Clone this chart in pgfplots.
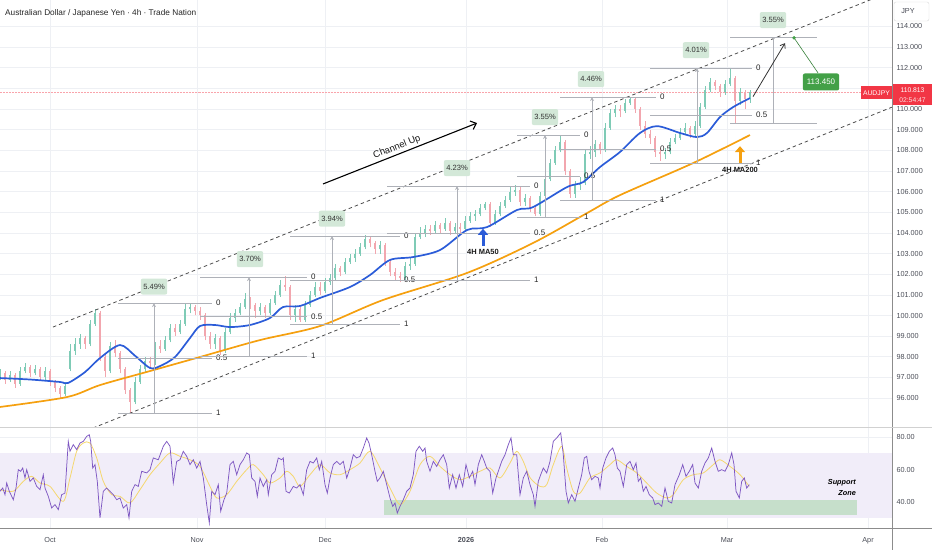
\documentclass[border=0pt]{standalone}
\usepackage{pgfplots}
\pgfplotsset{compat=1.18}
\usepackage{pgfplotstable}
\usetikzlibrary{arrows.meta}
\usepackage{fontspec}
\setmainfont{Liberation Sans}

\definecolor{cgreen}{HTML}{7FCBB6}
\definecolor{cred}{HTML}{F2A6AE}
\definecolor{ma50}{HTML}{2B5CD8}
\definecolor{ma200}{HTML}{F5A00F}
\definecolor{gridc}{HTML}{EEF0F4}
\definecolor{axc}{HTML}{4A4D57}
\definecolor{fibc}{HTML}{AEB1B8}
\definecolor{pctfill}{HTML}{D3E8D8}
\definecolor{rsic}{HTML}{7E57C2}
\definecolor{rsima}{HTML}{F5D76E}
\definecolor{band}{HTML}{F1EDF9}
\definecolor{zone}{HTML}{C6DFCB}
\definecolor{tagred}{HTML}{F23645}
\definecolor{tvgreen}{HTML}{43A047}

\pgfplotstableread{
x o h l c
0 97.0 97.4 96.9 97.2
5 97.2 97.3 96.7 96.9
10 96.9 97.3 96.8 97.1
15 97.1 97.2 96.5 96.7
20 96.7 97.5 96.6 97.3
25 97.3 97.7 97.2 97.5
30 97.5 97.6 97.0 97.2
35 97.2 97.6 97.1 97.4
40 97.4 97.5 96.9 97.0
45 97.0 97.5 96.9 97.3
50 97.3 97.4 96.6 96.8
55 96.8 96.9 96.3 96.5
60 96.5 96.6 96.0 96.2
65 96.2 96.8 96.1 96.6
70 97.4 98.6 97.3 98.3
75 98.3 98.9 98.1 98.6
80 98.6 99.1 98.4 98.9
85 98.9 99.0 98.4 98.6
90 98.6 99.8 98.5 99.6
95 99.6 100.3 99.5 100.1
100 100.1 100.2 97.8 98.0
105 98.0 98.2 97.0 97.3
110 97.3 98.7 97.2 98.5
115 98.5 98.8 98.0 98.2
120 98.2 98.3 97.2 97.4
125 97.4 97.5 96.2 96.4
130 96.4 96.5 95.3 95.8
135 95.8 97.0 95.7 96.8
140 96.8 97.6 96.7 97.4
145 97.4 98.0 97.2 97.8
150 97.8 98.0 97.5 97.7
155 97.7 98.7 97.6 98.5
160 98.5 98.8 98.2 98.4
165 98.4 99.0 98.3 98.8
170 98.8 99.6 98.7 99.4
175 99.4 99.6 99.0 99.2
180 99.2 99.8 99.1 99.6
185 99.6 100.6 99.5 100.3
190 100.3 100.6 100.1 100.4
195 100.4 100.5 100.0 100.2
200 100.2 100.4 99.8 100.0
205 100.0 100.1 98.8 99.0
210 99.0 99.2 98.4 98.6
215 98.6 99.1 98.4 98.9
220 98.9 99.0 98.1 98.3
225 98.3 99.4 98.2 99.2
230 99.2 100.1 99.1 99.9
235 99.9 100.3 99.7 100.1
240 100.1 100.6 100.0 100.4
245 100.4 101.1 100.3 100.8
250 100.8 100.9 100.3 100.5
255 100.5 100.6 99.9 100.2
260 100.2 100.6 100.0 100.4
265 100.4 100.5 99.9 100.1
270 100.1 100.8 100.0 100.6
275 100.6 101.2 100.5 101.0
280 101.0 101.7 100.9 101.5
285 101.5 101.9 101.2 101.4
290 101.4 101.5 99.8 100.0
295 100.0 100.5 99.7 100.3
300 100.3 100.4 99.7 99.8
305 99.8 100.7 99.7 100.5
310 100.5 101.2 100.4 101.0
315 101.0 101.6 100.9 101.4
320 101.4 101.6 101.0 101.2
325 101.2 101.8 101.1 101.6
330 101.6 102.0 101.5 101.8
335 101.8 102.5 101.7 102.3
340 102.3 102.4 101.9 102.1
345 102.1 102.8 102.0 102.6
350 102.6 103.0 102.5 102.8
355 102.8 103.2 102.6 103.0
360 103.0 103.5 102.9 103.3
365 103.3 103.9 103.2 103.7
370 103.7 103.8 103.3 103.5
375 103.5 103.6 103.0 103.2
380 103.2 103.6 103.0 103.4
385 103.4 103.5 102.4 102.6
390 102.6 102.7 101.9 102.1
395 102.1 102.3 101.7 101.9
400 101.9 102.1 101.6 101.8
405 101.8 102.6 101.7 102.4
410 102.4 102.8 102.2 102.5
415 102.5 104.0 102.4 103.8
420 103.8 104.3 103.7 104.0
425 104.0 104.4 103.8 104.2
430 104.2 104.4 103.9 104.1
435 104.1 104.6 104.0 104.4
440 104.4 104.5 104.0 104.2
445 104.2 104.7 104.1 104.5
450 104.5 104.6 103.9 104.1
455 104.1 104.5 104.0 104.3
460 104.3 104.5 104.0 104.2
465 104.2 104.8 104.1 104.6
470 104.6 105.0 104.5 104.8
475 104.8 105.1 104.6 104.9
480 104.9 105.4 104.8 105.2
485 105.2 105.5 105.1 105.4
490 105.4 105.5 104.3 104.5
495 104.5 105.1 104.4 104.9
500 104.9 105.5 104.8 105.3
505 105.3 105.8 105.2 105.6
510 105.6 106.2 105.5 106.0
515 106.0 106.3 105.8 106.1
520 106.1 106.2 105.3 105.5
525 105.5 105.9 105.3 105.7
530 105.7 105.8 105.0 105.2
535 105.2 105.3 104.8 104.9
540 104.9 106.0 104.8 105.8
545 105.8 106.8 105.7 106.6
550 106.6 107.6 106.5 107.4
555 107.4 108.2 107.3 108.0
560 108.0 108.7 107.9 108.4
565 108.4 108.5 106.8 107.0
570 107.0 107.1 105.7 105.9
575 105.9 106.5 105.7 106.3
580 106.3 106.7 106.1 106.4
585 106.4 108.0 106.3 107.8
590 107.8 108.2 107.6 107.9
595 107.9 108.5 107.7 108.3
600 108.3 108.4 107.8 108.0
605 108.0 109.3 107.9 109.1
610 109.1 110.0 109.0 109.8
615 109.8 110.2 109.6 110.0
620 110.0 110.2 109.6 109.9
625 109.9 110.5 109.8 110.3
630 110.3 110.6 110.2 110.5
635 110.5 110.6 109.8 110.0
640 110.0 110.1 109.0 109.2
645 109.2 109.4 108.6 108.8
650 108.8 109.0 108.3 108.6
655 108.6 108.7 107.7 107.9
660 107.9 108.1 107.5 107.8
665 107.8 108.1 107.6 107.9
670 107.9 108.6 107.8 108.4
675 108.4 108.8 108.3 108.6
680 108.6 109.1 108.5 108.9
685 108.9 109.3 108.8 109.1
690 109.1 109.2 108.6 108.8
695 108.8 109.4 108.7 109.2
700 109.2 110.3 109.1 110.1
705 110.1 111.1 110.0 110.9
710 110.9 111.5 110.8 111.3
715 111.3 111.4 110.9 111.1
720 111.1 111.2 110.6 110.8
725 110.8 111.4 110.7 111.2
730 111.2 112.0 111.1 111.5
735 111.5 111.6 109.3 110.4
740 110.4 111.0 110.2 110.8
745 110.8 110.9 110.0 110.5
750 110.5 110.9 110.3 110.8
}\candles

\pgfplotstableread{
x r
0 46.6
2.7 48.6
5 44.5
6.7 51.7
9.3 46.6
11.7 43.5
13.3 41.4
16 48.6
18.3 59.9
20.7 58.9
22.7 60.9
25 54.8
26.7 59.9
30 52.7
33.3 54.8
36.7 49.6
40 47.6
43.3 56.8
45 48.6
48.3 43.5
51.7 36.3
55 38.4
58.3 35.3
61.7 44.5
65 45.5
68.3 77.3
70 71.2
73.3 75.3
76.7 72.2
80 76.3
83.3 77.3
86.7 80.4
89.3 81.4
90.7 77.3
92.7 60.9
95 63.0
97.3 52.7
100 30.2
103.3 46.6
106.7 48.6
110 46.6
113.3 44.5
116.7 41.4
120 42.5
123.3 36.3
126.7 38.4
129 30.2
131.7 46.6
135 50.7
138.3 49.6
141.7 58.9
146.7 57.9
150 59.9
153.3 67.1
158.3 66.0
163.3 74.3
166.7 77.3
170 74.3
171.7 63.0
173.3 51.7
176.7 65.0
180 66.0
183.3 71.2
186.7 68.1
190 63.0
193.3 66.0
196.7 60.9
200 65.0
203.3 54.8
206.7 38.4
209.3 27.1
211.7 46.6
215 44.5
218.3 50.7
220.7 34.3
224 41.4
226.7 45.5
230 63.0
233.3 65.0
236.7 56.8
240 63.0
243.3 66.0
246.7 70.2
249.3 69.1
251.7 54.8
255 52.7
257.3 43.5
260 54.8
263.3 49.6
266.7 53.7
268.3 44.5
271.7 56.8
275 58.9
278.3 67.1
281.7 66.0
283.3 67.1
286 46.6
289.3 45.5
293.3 49.6
296.7 48.6
300 50.7
303.3 44.5
306.7 59.9
310 65.0
313.3 64.0
316.7 67.1
319.3 59.9
321.7 65.0
325 50.7
327.3 45.5
330 54.8
333.3 63.0
336.7 65.0
340 63.0
343.3 65.0
346.7 54.8
350 60.9
353.3 69.1
356.7 67.1
360 68.1
363.3 73.2
366.7 79.4
369 76.3
371.7 69.1
375 58.9
377.3 52.7
380 54.8
383.3 58.9
386.7 50.7
390 42.5
392.7 37.3
395 39.4
397.3 33.2
400 37.3
403.3 41.4
406.7 46.6
410 48.6
413.3 56.8
416 71.2
419.3 74.3
422.7 71.2
425 73.2
426.7 65.0
430 58.9
433.3 65.0
436.7 61.9
440 66.0
443.3 69.1
446.7 63.0
449.3 48.6
452.7 56.8
456 48.6
459.3 56.8
462.7 49.6
466 63.0
469.3 54.8
472.7 58.9
475 50.7
478.3 63.0
481.7 69.1
484.3 65.0
486.7 60.9
490 58.9
492.7 45.5
496 54.8
498.3 58.9
501.7 65.0
505 69.1
508.3 75.3
511 79.4
513.3 69.1
516.7 69.1
520 44.5
523.3 54.8
526.7 58.9
530 50.7
533.3 44.5
535 37.3
538.3 52.7
540.7 56.8
543.3 60.9
546.7 57.9
550 65.0
553.3 77.3
556.7 79.4
560.7 82.5
563.3 69.1
566 46.6
568.3 39.4
571.7 44.5
575 40.4
578.3 48.6
581.7 56.8
584.3 67.1
586.7 68.1
589 58.9
591.7 53.7
595 55.8
598.3 54.8
600 48.6
602.7 60.9
606 67.1
609.3 71.2
612.7 73.2
615 69.1
617.3 60.9
620 58.9
623.3 49.6
626.7 63.0
630 65.0
633.3 59.9
636 64.0
638.3 52.7
640.7 54.8
643.3 46.6
646 49.6
649.3 44.5
652.7 42.5
655 38.4
658.3 39.4
661.7 37.3
665 48.6
668.3 40.4
671.7 39.4
675 50.7
679.3 56.8
682.7 63.0
686 55.8
689.3 58.9
692.7 63.0
695 51.7
698.3 48.6
701.7 58.9
705 64.0
708.3 67.1
711.7 73.2
715 65.0
718.3 58.9
721.7 59.9
725 58.9
728.3 63.0
731.7 70.2
734 63.0
736 46.6
739.3 42.5
741.7 52.7
744.3 54.8
746.7 48.6
749.3 50.7
}\rsi

\pgfplotstableread{
x m
0 47.6
13.3 46.6
23.3 52.7
31.7 55.8
40 51.7
50 49.6
63.3 40.4
70 54.8
76.7 71.2
83.3 76.3
90 76.3
96.7 67.1
103.3 52.7
111.7 44.5
120 43.5
130 39.4
140 47.6
150 56.8
160 64.0
170 70.2
180 68.1
190 66.0
200 61.9
210 49.6
216.7 42.5
226.7 44.5
236.7 52.7
246.7 59.9
253.3 63.0
263.3 56.8
270 51.7
280 54.8
286.7 58.9
293.3 55.8
300 49.6
310 56.8
320 63.0
330 57.9
340 56.8
350 59.9
360 64.0
370 71.2
380 60.9
390 48.6
400 38.4
410 46.6
420 63.0
430 68.1
440 61.9
450 56.8
460 53.7
470 55.8
480 58.9
490 60.9
500 54.8
510 64.0
516.7 71.2
523.3 65.0
530 55.0
540 49.6
546.7 50.7
553.3 63.0
561.7 74.3
566.7 60.9
573.3 46.6
580 45.5
590 54.8
600 57.9
610 63.0
616.7 66.0
626.7 61.9
636.7 57.9
646.7 51.7
656.7 45.5
666.7 42.5
673.3 44.5
683.3 53.7
693.3 56.8
703.3 57.9
713.3 63.0
720 66.0
730 61.9
740 56.8
749.3 49.6
}\rsima

\tikzset{
  fibline/.style={fibc, line width=0.7bp},
  fibarrow/.style={fibc, line width=0.6bp, -{Stealth[length=4bp,width=4bp]}},
  fiblbl/.style={anchor=west, inner sep=0pt, xshift=4bp, font=\fontsize{8}{9}\selectfont, text=black!85},
  pctbox/.style={fill=pctfill, rounded corners=2bp, inner xsep=2.5bp, inner ysep=0pt, minimum height=16bp, font=\fontsize{7.6}{9}\selectfont, text=black!80},
}

\newcommand{\fibset}[6]{%
  \addplot[fibline] coordinates {(#1,#3) (#2,#3)};
  \addplot[fibline] coordinates {(#1,#4) (#2,#4)};
  \addplot[fibline] coordinates {(#1,#5) (#2,#5)};
  \addplot[fibarrow] coordinates {(#6,#5) (#6,#3)};
  \node[fiblbl] at (axis cs:#2,#3) {0};
  \node[fiblbl] at (axis cs:#2,#4) {0.5};
  \node[fiblbl] at (axis cs:#2,#5) {1};
}

\begin{document}
\begin{tikzpicture}
\path[use as bounding box] (0,0) rectangle (932bp,550bp);

% ---------------- main price panel ----------------
\begin{axis}[
  at={(0,123bp)}, anchor=south west, scale only axis,
  width=892bp, height=427bp,
  xmin=0, xmax=892, ymin=94.60, ymax=115.28,
  axis line style={draw=none}, tick style={draw=none},
  xtick={50,197,325,466,602,727,868}, xticklabels={,,,,,,},
  ytick={96,97,...,110,112,113,114}, yticklabel pos=right,
  extra y ticks={111}, extra y tick labels={}, extra y tick style={grid=major},
  yticklabel style={anchor=west, xshift=1bp, font=\fontsize{7.3}{8}\selectfont, text=axc},
  /pgf/number format/.cd, fixed, fixed zerofill, precision=3, assume math mode=true,
  /pgfplots/.cd,
  grid=major, major grid style={gridc, line width=0.7bp},
  clip=true,
]
% current price line
\addplot[tagred!45, line width=0.5bp, densely dotted] coordinates {(0,110.813) (892,110.813)};

% candles: wicks
\addplot[cgreen, line width=0.7bp, line cap=butt, restrict expr to domain={\thisrow{c}-\thisrow{o}}{0:100},
  quiver={u=0, v=\thisrow{h}-\thisrow{l}}]
  table[x=x, y=l] {\candles};
\addplot[cred, line width=0.7bp, line cap=butt, restrict expr to domain={\thisrow{c}-\thisrow{o}}{-100:-0.001},
  quiver={u=0, v=\thisrow{h}-\thisrow{l}}]
  table[x=x, y=l] {\candles};
% candles: bodies
\addplot[cgreen, line width=2.8bp, line cap=butt, restrict expr to domain={\thisrow{c}-\thisrow{o}}{0:100},
  quiver={u=0, v=\thisrow{c}-\thisrow{o}}]
  table[x=x, y=o] {\candles};
\addplot[cred, line width=2.8bp, line cap=butt, restrict expr to domain={\thisrow{c}-\thisrow{o}}{-100:-0.001},
  quiver={u=0, v=\thisrow{c}-\thisrow{o}}]
  table[x=x, y=o] {\candles};

% MA200
\addplot[ma200, line width=1.7bp, smooth] coordinates {
(0,95.57) (67,96.05) (100,96.63) (150,97.31) (200,97.99) (260,98.81) (320,99.49)
(383,100.75) (467,102.06) (533,103.51) (587,104.96) (620,105.83) (693,107.38) (750,108.74)};
% MA50
\addplot[ma50, line width=1.7bp, smooth] coordinates {
(0,96.97) (30,96.90) (60,96.78) (68,96.73) (85,97.26) (100,97.94) (120,98.57) (135,98.05)
(150,97.46) (160,97.55) (175,97.99) (190,98.91) (200,99.49) (215,99.54) (230,99.44)
(250,99.54) (270,99.88) (283,100.41) (300,100.46) (320,100.85) (350,101.38) (370,101.96)
(390,102.69) (413,102.83) (440,103.17) (467,104.14) (487,104.28) (517,105.11) (533,105.25)
(567,106.22) (583,106.46) (600,107.19) (620,107.92) (640,108.84) (657,109.17) (680,108.84)
(697,108.64) (707,108.84) (720,109.61) (733,110.09) (750,110.53)};

% channel lines
\addplot[black!70, line width=0.8bp, dash pattern=on 3.5bp off 3bp] coordinates {(53,99.44) (892,115.71)};
\addplot[black!70, line width=0.8bp, dash pattern=on 3.5bp off 3bp] coordinates {(93,94.55) (892,110.09)};

% fib retracements
\fibset{118}{212}{100.60}{97.94}{95.28}{154}
\fibset{200}{307}{101.86}{99.95}{98.04}{249}
\fibset{290}{400}{103.85}{101.72}{99.59}{332}
\fibset{387}{530}{106.27}{103.99}{101.72}{457}
\fibset{517}{580}{108.74}{106.75}{104.77}{545}
\fibset{560}{656}{110.58}{108.06}{105.59}{592}
\fibset{650}{752}{111.98}{109.71}{107.38}{697}
% projection
\addplot[fibline] coordinates {(730,113.45) (817,113.45)};
\addplot[fibline] coordinates {(730,109.32) (817,109.32)};
\addplot[fibline] coordinates {(773,109.32) (773,113.45)};

\node[pctbox] at (axis cs:154,101.40) {5.49\%};
\node[pctbox] at (axis cs:250,102.73) {3.70\%};
\node[pctbox] at (axis cs:332,104.69) {3.94\%};
\node[pctbox] at (axis cs:457,107.14) {4.23\%};
\node[pctbox] at (axis cs:545,109.61) {3.55\%};
\node[pctbox] at (axis cs:591,111.45) {4.46\%};
\node[pctbox] at (axis cs:696,112.85) {4.01\%};
\node[pctbox] at (axis cs:773,114.31) {3.55\%};

% projection arrow and target
\addplot[black!80, line width=0.8bp, -{Straight Barb[length=4bp,width=6bp]}] coordinates {(753,110.60) (785,113.19)};
\addplot[tvgreen!80!black, line width=0.6bp] coordinates {(794,113.45) (818,111.75)};
\addplot[only marks, mark=*, mark size=1.5bp, tvgreen] coordinates {(794,113.45)};
\node[fill=tvgreen, text=white, rounded corners=2bp, inner xsep=4bp, inner ysep=0pt, minimum height=17bp, font=\fontsize{8}{9}\selectfont] at (axis cs:821,111.31) {113.450};

% channel up
\addplot[black, line width=1.1bp, -{Straight Barb[length=5bp,width=9bp]}] coordinates {(323,106.37) (477,109.32)};
\node[rotate=21.6, font=\fontsize{9.5}{11}\selectfont, text=black!90] at (axis cs:397,108.16) {Channel Up};

% MA50 tag
\addplot[ma50, line width=3bp, -{Triangle[length=6bp,width=10bp]}] coordinates {(483,103.38) (483,104.20)};
\node[font=\bfseries\fontsize{7.5}{9}\selectfont, text=black!90] at (axis cs:483,103.10) {4H MA50};
% MA200 tag
\addplot[ma200, line width=3bp, -{Triangle[length=6bp,width=10bp]}] coordinates {(740,107.40) (740,108.20)};
\node[font=\bfseries\fontsize{7.5}{9}\selectfont, text=black!90] at (axis cs:740,107.06) {4H MA200};
\end{axis}

% ---------------- RSI panel ----------------
\begin{axis}[
  at={(0,22bp)}, anchor=south west, scale only axis,
  width=892bp, height=100bp,
  xmin=0, xmax=892, ymin=24, ymax=85.54,
  axis line style={draw=none}, tick style={draw=none},
  xtick={50,197,325,466,602,727,868},
  xticklabels={Oct,Nov,Dec,\textbf{2026},Feb,Mar,Apr},
  xticklabel style={anchor=base, yshift=-14bp, font=\fontsize{7.3}{8}\selectfont, text=axc},
  ytick={40,60,80}, yticklabel pos=right,
  yticklabel style={anchor=west, xshift=1bp, font=\fontsize{7.3}{8}\selectfont, text=axc},
  /pgf/number format/.cd, fixed, fixed zerofill, precision=2, assume math mode=true,
  /pgfplots/.cd,
  grid=major, major grid style={gridc, line width=0.7bp},
  clip=true,
]
\fill[band] (axis cs:0,30) rectangle (axis cs:892,70);
\fill[zone] (axis cs:384,32) rectangle (axis cs:857,41.2);
\addplot[rsima, line width=0.8bp, smooth] table[x=x, y=m] {\rsima};
\addplot[rsic, line width=0.75bp] table[x=x, y=r] {\rsi};
\node[align=right, anchor=east, inner sep=0pt, font=\bfseries\itshape\fontsize{7.3}{10.5}\selectfont] at (axis cs:856,49) {Support\\Zone};
\end{axis}

% ---------------- frame ----------------
\draw[black!45, line width=0.8bp] (892bp,0) -- (892bp,550bp);
\draw[black!45, line width=0.8bp] (0,22bp) -- (932bp,22bp);
\draw[black!18, line width=1.2bp] (0,122.5bp) -- (932bp,122.5bp);

% title
\node[anchor=base west, inner sep=0pt, font=\fontsize{8.3}{10}\selectfont, text=black!85] at (5bp,534bp) {Australian Dollar / Japanese Yen · 4h · Trade Nation};

% JPY box
\draw[fill=white, draw=black!15, rounded corners=2bp] (894bp,529bp) rectangle (929bp,548bp);
\node[font=\fontsize{7.3}{8}\selectfont, text=axc] at (908bp,538.5bp) {JPY};

% price tag
\node[fill=tagred, text=white, inner xsep=2bp, inner ysep=0pt, minimum height=13bp, anchor=east, font=\fontsize{6.8}{8}\selectfont] at (892bp,457bp) {AUDJPY};
\fill[tagred] (893bp,444.5bp) rectangle (932bp,465.5bp);
\node[text=white, font=\fontsize{6.8}{8}\selectfont] at (912.5bp,459.5bp) {110.813};
\node[text=white!85!tagred, font=\fontsize{6.8}{8}\selectfont] at (912.5bp,450bp) {02:54:47};
\end{tikzpicture}
\end{document}
